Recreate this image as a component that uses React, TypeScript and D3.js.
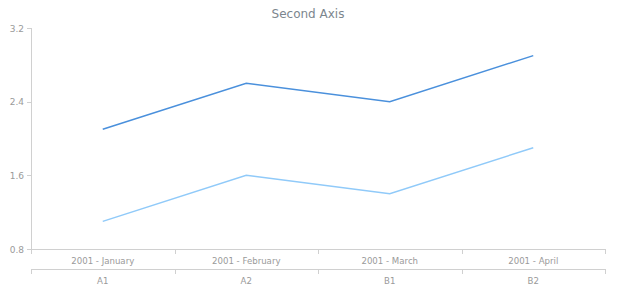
import React from "react";
import * as d3 from "d3";

const categories = ["A1", "A2", "B1", "B2"];
const months = ["2001 - January", "2001 - February", "2001 - March", "2001 - April"];
const series1 = [2.1, 2.6, 2.4, 2.9];
const series2 = [1.1, 1.6, 1.4, 1.9];
const yTicks = [0.8, 1.6, 2.4, 3.2];

const W = 620, H = 300;
const left = 31, right = 605, top = 28, bottom = 249;
const font = "'DejaVu Sans', Verdana, sans-serif";
const axisColor = "#d0d0d0";
const labelColor = "#9a9a9a";

export default function App() {
  const x = d3.scaleBand<string>().domain(categories).range([left, right]);
  const y = d3.scaleLinear().domain([0.8, 3.2]).range([bottom, top]);
  const line = d3.line<number>()
    .x((_, i) => (x(categories[i]) as number) + x.bandwidth() / 2)
    .y(d => y(d));
  const bounds = [...categories.map(c => x(c) as number), right];
  const axis2 = 269;
  return (
    <svg width={W} height={H} style={{ position: "absolute", left: 0, top: 0, background: "#fff" }}>
      <text x={W / 2 - 2} y={18} textAnchor="middle" fontFamily={font} fontSize={12} fill="#7c868e">Second Axis</text>
      <line x1={left + 0.5} x2={left + 0.5} y1={top} y2={bottom} stroke={axisColor} />
      {yTicks.map(t => (
        <g key={t}>
          <line x1={left - 4} x2={left} y1={Math.round(y(t)) + 0.5} y2={Math.round(y(t)) + 0.5} stroke={axisColor} />
          <text x={left - 7} y={y(t) + 3.5} textAnchor="end" fontFamily={font} fontSize={9} fill={labelColor}>{t.toFixed(1)}</text>
        </g>
      ))}
      <line x1={left} x2={right + 0.5} y1={bottom + 0.5} y2={bottom + 0.5} stroke={axisColor} />
      {bounds.map((b, i) => (
        <line key={"t1" + i} x1={Math.round(b) + 0.5} x2={Math.round(b) + 0.5} y1={bottom} y2={bottom + 5} stroke={axisColor} />
      ))}
      {months.map((m, i) => (
        <text key={m} x={(x(categories[i]) as number) + x.bandwidth() / 2} y={264} textAnchor="middle" fontFamily={font} fontSize={8.6} fill={labelColor}>{m}</text>
      ))}
      <line x1={left} x2={right + 0.5} y1={axis2 + 0.5} y2={axis2 + 0.5} stroke={axisColor} />
      {bounds.map((b, i) => (
        <line key={"t2" + i} x1={Math.round(b) + 0.5} x2={Math.round(b) + 0.5} y1={axis2} y2={axis2 + 5} stroke={axisColor} />
      ))}
      {categories.map(c => (
        <text key={c} x={(x(c) as number) + x.bandwidth() / 2} y={284} textAnchor="middle" fontFamily={font} fontSize={8.6} fill={labelColor}>{c}</text>
      ))}
      <path d={line(series2) || ""} fill="none" stroke="#90caf9" strokeWidth={1.5} />
      <path d={line(series1) || ""} fill="none" stroke="#4a90dc" strokeWidth={1.5} />
    </svg>
  );
}
